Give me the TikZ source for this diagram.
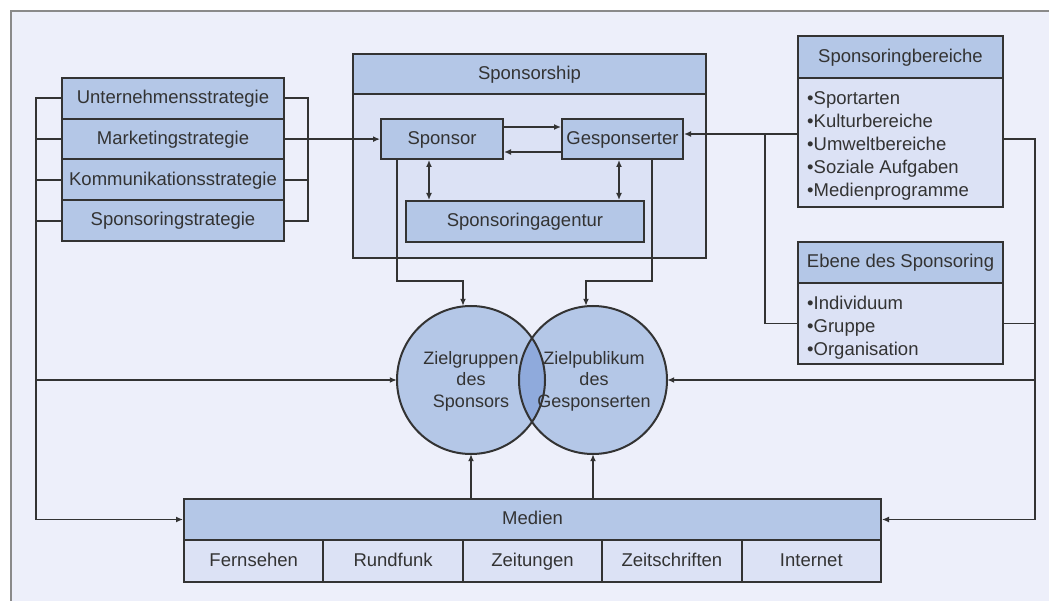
\documentclass[tikz,border=0pt]{standalone}
\usepackage{fontspec}
\setmainfont{Liberation Sans}
\usetikzlibrary{arrows.meta}
\definecolor{headblue}{HTML}{B4C7E7}
\definecolor{bodyblue}{HTML}{DCE2F5}
\definecolor{paper}{HTML}{EDEFFA}
\definecolor{lensblue}{HTML}{8FAADC}
\definecolor{ink}{HTML}{333333}
\definecolor{framegray}{HTML}{8A8A8A}

\tikzset{
  box/.style={draw=ink, line width=2pt, inner sep=0pt, text=ink,
    font=\fontsize{18.5}{22}\selectfont, anchor=north west,
    text height=13.5pt, text depth=3pt},
  head/.style={box, fill=headblue},
  body/.style={box, fill=bodyblue},
  wire/.style={draw=ink, line width=1.9pt},
  arr/.style={wire, -{Latex[length=7pt,width=6pt]}},
  darr/.style={wire, {Latex[length=7pt,width=6pt]}-{Latex[length=7pt,width=6pt]}},
  items/.style={inner sep=0pt, text=ink, align=left, anchor=west,
    font=\fontsize{18.5}{23}\selectfont},
  ctext/.style={inner sep=0pt, text=ink, align=center,
    font=\fontsize{18}{21.5}\selectfont},
  disc/.style={circle, fill=headblue, minimum size=148, inner sep=0pt},
}

\begin{document}
\begin{tikzpicture}[x=1pt, y=-1pt]
\useasboundingbox (0,0) rectangle (1049,601);

% sheet with its top and left edge
\fill[paper] (11,11) rectangle (1049,601);
\draw[framegray, line width=2.5pt] (11,601) -- (11,11) -- (1049,11);

% strategy stack
\node[head, minimum width=222, minimum height=40.75] (s1) at (61,77) {Unternehmensstrategie};
\node[head, minimum width=222, minimum height=40.75] (s2) at (61,117.75) {Marketingstrategie};
\node[head, minimum width=222, minimum height=40.75] (s3) at (61,158.5) {Kommunikationsstrategie};
\node[head, minimum width=222, minimum height=40.75] (s4) at (61,199.25) {Sponsoringstrategie};

% sponsorship block
\node[body, minimum width=353, minimum height=164] (sbody) at (352,93) {};
\node[head, minimum width=353, minimum height=40] (sship) at (352,53) {Sponsorship};
\node[head, minimum width=122, minimum height=40] (sponsor) at (380,118) {Sponsor};
\node[head, minimum width=121, minimum height=40] (gesp) at (561,118) {Gesponserter};
\node[head, minimum width=238, minimum height=41] (agentur) at (405,200) {Sponsoringagentur};

% right-hand lists
\node[body, minimum width=205, minimum height=129] (sbb) at (797,77) {};
\node[head, minimum width=205, minimum height=42] (sbh) at (797,35) {Sponsoringbereiche};
\node[items] (sbitems) at (807,146) {•Sportarten\\•Kulturbereiche\\•Umweltbereiche\\•Soziale Aufgaben\\•Medienprogramme};

\node[body, minimum width=205, minimum height=81] (ebb) at (797,282) {};
\node[head, minimum width=205, minimum height=41] (ebh) at (797,241) {Ebene des Sponsoring};
\node[items] (ebitems) at (807,328) {•Individuum\\•Gruppe\\•Organisation};

% media bar
\node[head, minimum width=697, minimum height=41] (medien) at (183,498) {Medien};
\foreach \i/\t in {0/Fernsehen,1/Rundfunk,2/Zeitungen,3/Zeitschriften,4/Internet}
  \node[body, minimum width=139.4, minimum height=42] (m\i) at (183+139.4*\i,539) {\t};

% target groups
\node[disc] (zg) at (471,380) {};
\node[disc] (zp) at (593,380) {};
\begin{scope}
  \clip (zg.center) circle (74pt);
  \fill[lensblue] (zp.center) circle (74pt);
\end{scope}
\draw[ink, line width=2pt] (zg.center) circle (74pt) (zp.center) circle (74pt);
\node[ctext] (zgt) at (471,381) {Zielgruppen\\des\\Sponsors};
\node[ctext] (zpt) at (594,381) {Zielpublikum\\des\\Gesponserten};

% junction columns
\coordinate (lb) at (36,0);
\coordinate (rb) at (308,0);
\coordinate (jl) at (397,281);
\coordinate (jr) at (652,281);
\coordinate (jm) at (765,0);
\coordinate (re) at (1035,0);

% left brackets
\draw[arr] (s1.west) -- (s1.west -| lb) |- (medien.west);
\foreach \s in {s2,s3,s4} \draw[wire] (\s.west) -- (\s.west -| lb);
\draw[arr] (lb |- zg.west) -- (zg.west);
\draw[wire] (s1.east) -- (s1.east -| rb) |- (s4.east);
\draw[wire] (s3.east) -- (s3.east -| rb);
\draw[arr] (s2.east) -- (s2.east -| sponsor.west);

% inside the sponsorship
\draw[arr] ([yshift=12pt]sponsor.east) -- ([yshift=12pt]sponsor.east -| gesp.west);
\draw[arr] ([yshift=-13pt]gesp.west) -- ([yshift=-13pt]gesp.west -| sponsor.east);
\draw[darr] ([xshift=49pt]sponsor.south west) -- ([xshift=49pt]sponsor.south west |- agentur.north);
\draw[darr] ([xshift=58pt]gesp.south west) -- ([xshift=58pt]gesp.south west |- agentur.north);

% down to the target groups
\draw[arr] (sponsor.south -| jl) -- (jl) -| ([xshift=-8pt]zg.north);
\draw[arr] (gesp.south -| jr) -- (jr) -| ([xshift=-7pt]zp.north);

% media reach
\draw[arr] (medien.north -| zg.south) -- (zg.south);
\draw[arr] (medien.north -| zp.south) -- (zp.south);

% right-hand links
\draw[arr] ([yshift=8.5pt]sbb.west) -- ([yshift=8.5pt]sbb.west -| gesp.east);
\draw[wire] ([yshift=8.5pt]sbb.west -| jm) |- (ebb.west);
\draw[arr] ([yshift=3.5pt]sbb.east) -| (re |- medien.east) -- (medien.east);
\draw[wire] (ebb.east) -- (ebb.east -| re);
\draw[arr] (re |- zp.east) -- (zp.east);
\end{tikzpicture}
\end{document}
